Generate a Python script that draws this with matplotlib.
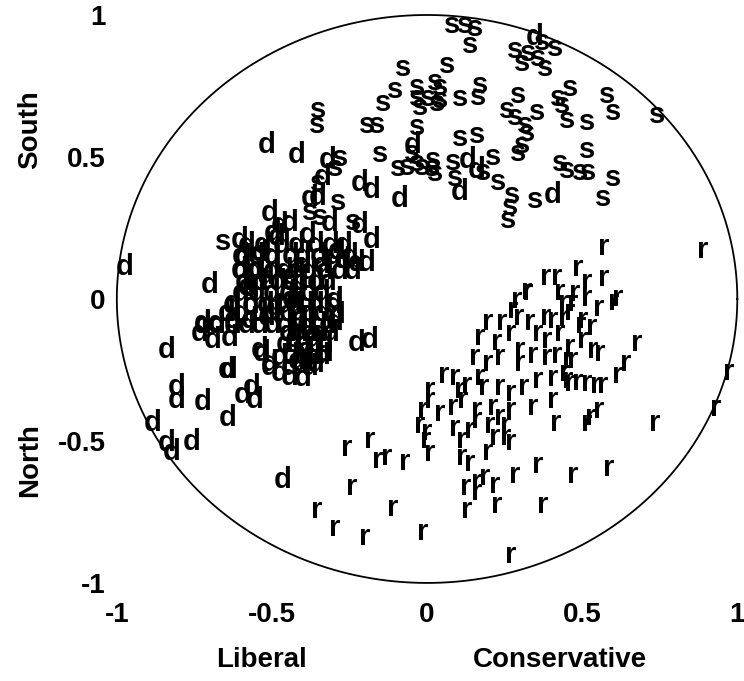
import matplotlib
matplotlib.use("Agg")
import matplotlib.pyplot as plt
import numpy as np

plt.rcParams['font.family'] = ['Liberation Sans', 'DejaVu Sans']

# southern members (s)
s_pts = [
    (0.081, 0.965), (0.123, 0.965), (0.155, 0.954), (0.139, 0.894),
    (0.371, 0.905), (0.413, 0.884), (0.284, 0.877), (0.326, 0.866),
    (0.306, 0.831), (0.358, 0.849), (0.381, 0.813), (0.065, 0.824),
    (0.461, 0.743), (0.581, 0.718), (0.600, 0.658), (0.742, 0.648),
    (0.294, 0.718), (0.423, 0.708), (0.435, 0.683), (0.355, 0.658),
    (0.258, 0.665), (0.284, 0.641), (0.316, 0.613), (0.323, 0.585),
    (0.452, 0.630), (0.516, 0.623), (0.171, 0.754), (0.165, 0.711),
    (0.106, 0.708), (0.042, 0.746), (0.042, 0.701), (0.161, 0.577),
    (0.106, 0.567), (-0.077, 0.813), (-0.103, 0.736), (-0.032, 0.746),
    (0.026, 0.764), (-0.142, 0.690), (-0.032, 0.708), (0.003, 0.708),
    (0.032, 0.690), (-0.023, 0.676), (-0.352, 0.665), (-0.355, 0.613),
    (-0.194, 0.613), (-0.161, 0.613), (-0.032, 0.606), (-0.281, 0.496),
    (-0.297, 0.461), (-0.150, 0.510), (-0.048, 0.515), (-0.352, 0.408),
    (-0.287, 0.342), (-0.377, 0.306), (-0.345, 0.289), (-0.239, 0.271),
    (-0.094, 0.461), (-0.065, 0.465), (-0.032, 0.479), (-0.016, 0.465),
    (0.019, 0.489), (0.026, 0.444), (0.016, 0.461), (0.084, 0.482),
    (0.213, 0.500), (0.181, 0.447), (0.229, 0.412), (0.090, 0.426),
    (0.294, 0.514), (0.306, 0.542), (0.274, 0.366), (0.268, 0.324),
    (0.261, 0.278), (0.348, 0.349), (0.429, 0.479), (0.452, 0.454),
    (0.494, 0.447), (0.519, 0.447), (0.516, 0.525), (0.600, 0.426),
    (0.568, 0.356), (-0.658, 0.200),
]

# northern democrats (d)
d_pts = [
    (0.348, 0.923), (-0.045, 0.542), (0.132, 0.489), (0.161, 0.454),
    (0.106, 0.377), (-0.087, 0.352), (0.406, 0.366),
    (-0.516, 0.542), (-0.419, 0.507), (-0.319, 0.489), (-0.335, 0.430),
    (-0.216, 0.408), (-0.177, 0.384), (-0.352, 0.359), (-0.377, 0.356),
    (-0.506, 0.303), (-0.313, 0.268), (-0.216, 0.261), (-0.474, 0.261),
    (-0.442, 0.268), (-0.484, 0.218), (-0.384, 0.225), (-0.177, 0.208),
    (-0.974, 0.113), (-0.700, 0.049), (-0.603, 0.208), (-0.594, 0.148),
    (-0.539, 0.162), (-0.497, 0.232), (-0.603, 0.102), (-0.548, 0.102),
    (-0.497, 0.148), (-0.581, 0.042), (-0.626, -0.014), (-0.645, -0.049),
    (-0.723, -0.085), (-0.677, -0.085), (-0.626, -0.074), (-0.571, -0.074),
    (-0.516, -0.063), (-0.839, -0.180), (-0.806, -0.310), (-0.806, -0.356),
    (-0.723, -0.363), (-0.642, -0.419), (-0.884, -0.437), (-0.839, -0.507),
    (-0.823, -0.539), (-0.758, -0.504), (-0.645, -0.250), (-0.640, -0.250),
    (-0.594, -0.338), (-0.565, -0.310), (-0.555, -0.356), (-0.532, -0.190),
    (-0.506, -0.239), (-0.732, -0.120), (-0.690, -0.144), (-0.635, -0.137),
    (-0.723, -0.092), (-0.677, -0.092), (-0.626, -0.092), (-0.581, -0.092),
    (-0.539, -0.092), (-0.497, -0.092), (-0.226, -0.155), (-0.184, -0.144),
    (-0.297, -0.004), (-0.290, -0.056), (-0.297, -0.081), (-0.194, 0.127),
    (-0.226, 0.127), (-0.271, 0.137), (-0.474, -0.261), (-0.442, -0.275),
    (-0.400, -0.278), (-0.377, -0.239), (-0.410, -0.225), (-0.506, -0.225),
    (-0.539, -0.180), (-0.474, -0.204), (-0.442, -0.239), (-0.465, -0.637),
    # dense core
    (-0.58, 0.19), (-0.53, 0.19), (-0.47, 0.19), (-0.42, 0.19), (-0.36, 0.19),
    (-0.31, 0.19), (-0.27, 0.19),
    (-0.60, 0.15), (-0.55, 0.15), (-0.50, 0.15), (-0.44, 0.15), (-0.40, 0.15),
    (-0.35, 0.15), (-0.30, 0.15), (-0.25, 0.15),
    (-0.60, 0.10), (-0.56, 0.10), (-0.50, 0.10), (-0.46, 0.10), (-0.42, 0.10),
    (-0.38, 0.10), (-0.33, 0.10), (-0.28, 0.10), (-0.24, 0.10),
    (-0.59, 0.06), (-0.54, 0.06), (-0.48, 0.06), (-0.44, 0.06), (-0.41, 0.06),
    (-0.36, 0.06), (-0.32, 0.06),
    (-0.60, 0.02), (-0.55, 0.02), (-0.50, 0.02), (-0.45, 0.02), (-0.42, 0.02),
    (-0.38, 0.02), (-0.34, 0.02),
    (-0.63, -0.02), (-0.57, -0.02), (-0.52, -0.02), (-0.46, -0.02),
    (-0.43, -0.02), (-0.39, -0.02), (-0.36, -0.02), (-0.30, -0.02),
    (-0.60, -0.05), (-0.54, -0.05), (-0.50, -0.05), (-0.45, -0.05),
    (-0.42, -0.05), (-0.38, -0.05), (-0.34, -0.05),
    (-0.46, -0.09), (-0.42, -0.09), (-0.39, -0.09), (-0.35, -0.09), (-0.32, -0.09),
    (-0.45, -0.12), (-0.41, -0.12), (-0.38, -0.12), (-0.35, -0.12), (-0.31, -0.12),
    (-0.46, -0.16), (-0.43, -0.16), (-0.40, -0.16), (-0.36, -0.16), (-0.33, -0.16),
    (-0.44, -0.20), (-0.40, -0.20), (-0.37, -0.20), (-0.34, -0.20),
    (-0.44, 0.08), (-0.42, 0.04), (-0.44, 0.00), (-0.41, -0.07),
    (-0.43, -0.14), (-0.39, -0.18), (-0.42, -0.22), (-0.36, -0.23),
    (-0.52, 0.08), (-0.57, 0.04), (-0.49, -0.03), (-0.40, 0.12),
    (-0.34, 0.12), (-0.29, 0.17), (-0.37, -0.14), (-0.33, -0.19),
]

# republicans (r)
r_pts = [
    (0.568, 0.183), (0.890, 0.173), (0.381, 0.077), (0.419, 0.077),
    (0.487, 0.109), (0.516, 0.060), (0.568, 0.074), (0.323, 0.025),
    (0.290, -0.004), (0.429, 0.025), (0.477, 0.021), (0.516, 0.004),
    (0.552, -0.032), (0.613, 0.004), (0.439, -0.014), (0.277, -0.039),
    (0.294, -0.063), (0.194, -0.081), (0.242, -0.081), (0.332, -0.081),
    (0.381, -0.063), (0.406, -0.074), (0.439, -0.067), (0.461, -0.046),
    (0.503, -0.074), (0.471, -0.014), (0.320, 0.028),
    (0.171, -0.134), (0.226, -0.151), (0.268, -0.120), (0.300, -0.180),
    (0.355, -0.120), (0.387, -0.144), (0.429, -0.120), (0.461, -0.169),
    (0.503, -0.144), (0.532, -0.099), (0.155, -0.204), (0.194, -0.225),
    (0.235, -0.204), (0.300, -0.225), (0.342, -0.197), (0.387, -0.204),
    (0.419, -0.197), (0.452, -0.215), (0.052, -0.268), (0.090, -0.275),
    (0.129, -0.303), (0.171, -0.275), (0.181, -0.310), (0.235, -0.310),
    (0.268, -0.331), (0.310, -0.310), (0.355, -0.285), (0.406, -0.278),
    (0.452, -0.285), (0.484, -0.292), (0.516, -0.296), (0.010, -0.320),
    (0.106, -0.320), (-0.013, -0.391), (0.010, -0.356), (0.042, -0.401),
    (0.084, -0.380), (0.116, -0.356), (0.161, -0.391), (0.213, -0.380),
    (0.235, -0.415), (0.268, -0.391), (0.342, -0.380), (0.406, -0.356),
    (0.161, -0.426), (0.526, -0.415),
    (0.600, -0.010), (0.677, -0.155), (0.639, -0.225), (0.616, -0.268),
    (0.545, -0.303), (0.565, -0.303), (0.552, -0.391), (0.735, -0.437),
    (0.971, -0.257), (0.929, -0.384), (0.494, -0.092), (0.535, -0.180),
    (0.558, -0.190), (0.471, -0.215), (0.445, -0.260), (0.461, -0.296),
    (-0.258, -0.525), (-0.184, -0.496), (-0.158, -0.567), (-0.129, -0.556),
    (-0.071, -0.574), (0.010, -0.542), (0.113, -0.556), (0.139, -0.577),
    (0.197, -0.539), (0.252, -0.486), (0.268, -0.504), (0.123, -0.662),
    (0.161, -0.644), (0.187, -0.627), (0.219, -0.655), (0.161, -0.680),
    (0.284, -0.620), (0.355, -0.585), (0.468, -0.620), (0.584, -0.595),
    (-0.242, -0.662), (-0.355, -0.743), (-0.297, -0.806), (-0.200, -0.838),
    (-0.110, -0.736), (-0.013, -0.820), (0.129, -0.743), (0.226, -0.725),
    (0.374, -0.725), (0.268, -0.901), (0.413, -0.437), (0.516, -0.437),
    (-0.023, -0.444), (-0.006, -0.496), (0.000, -0.470), (0.090, -0.454),
    (0.113, -0.496), (0.139, -0.461), (0.203, -0.444), (0.219, -0.486),
    (0.252, -0.444),
]

ticks = [-1, -0.5, 0, 0.5, 1]
tick_labels = ['-1', '-0.5', '0', '0.5', '1']

fig = plt.figure(figsize=(7.44, 6.81), dpi=100)
ax = fig.add_axes([0.157, 0.144, 0.834, 0.834])
ax.set_xlim(-1, 1)
ax.set_ylim(-1, 1)

t = np.linspace(0, 2 * np.pi, 500)
ax.plot(np.cos(t), np.sin(t), color='black', lw=1.3, clip_on=False)

for pts, letter in [(d_pts, 'd'), (s_pts, 's'), (r_pts, 'r')]:
    for x, y in pts:
        ax.text(x, y, letter, fontsize=21, fontweight='bold',
                ha='center', va='center', clip_on=False)

for sp in ax.spines.values():
    sp.set_visible(False)
ax.set_xticks(ticks)
ax.set_xticklabels(tick_labels)
ax.set_yticks(ticks)
ax.set_yticklabels(tick_labels)
ax.tick_params(length=0, labelsize=20)
ax.tick_params(axis='x', pad=14)
ax.tick_params(axis='y', pad=8)
for lab in ax.get_xticklabels() + ax.get_yticklabels():
    lab.set_fontweight('bold')

fig.text(262 / 744, 1 - 660 / 681, 'Liberal', fontsize=20, fontweight='bold',
         ha='center', va='center')
fig.text(560 / 744, 1 - 660 / 681, 'Conservative', fontsize=20,
         fontweight='bold', ha='center', va='center')
fig.text(30 / 744, 1 - 130 / 681, 'South', fontsize=20, fontweight='bold',
         ha='center', va='center', rotation=90)
fig.text(30 / 744, 1 - 460 / 681, 'North', fontsize=20, fontweight='bold',
         ha='center', va='center', rotation=90)

fig.savefig('out.png', dpi=100)
